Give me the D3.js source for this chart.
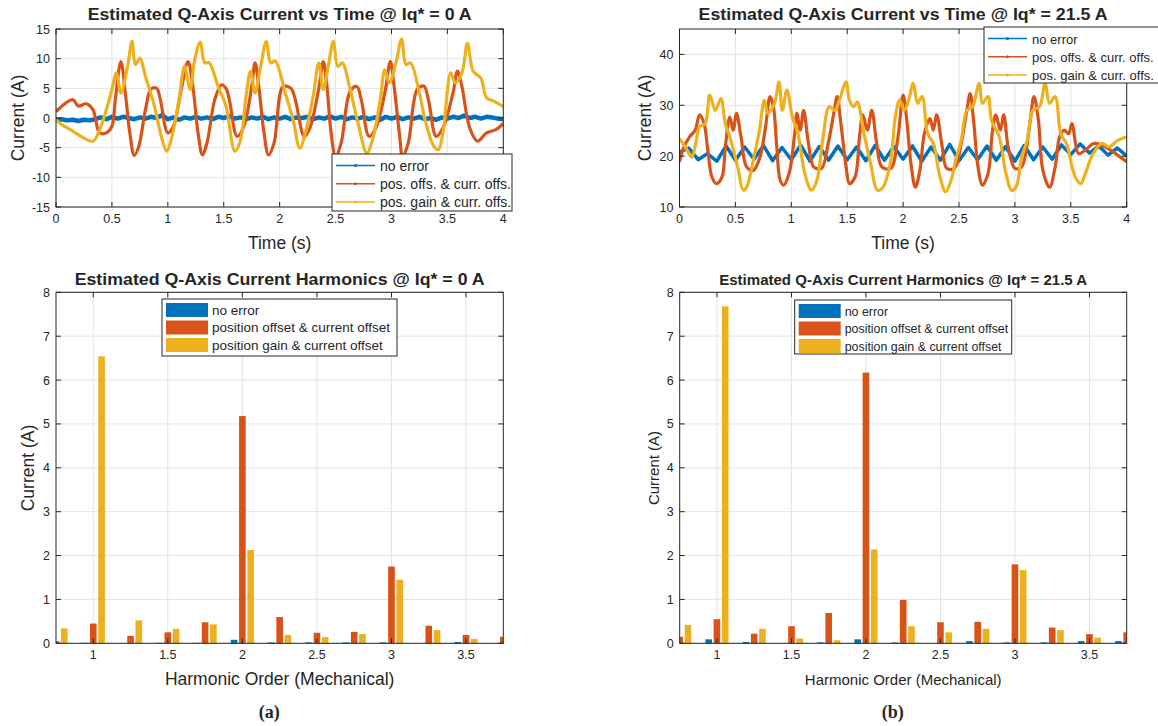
<!DOCTYPE html>
<html lang="en">
<head>
<meta charset="UTF-8">
<title>Estimated Q-Axis Current</title>
<style>
  body { margin: 0; background: #fff; font-family: "Liberation Sans", Arial, sans-serif; }
  text { fill: #262626; }
</style>
</head>
<body>
<svg width="1158" height="726"></svg>
<script src="https://d3js.org/d3.v7.min.js"></script>
<script>
// ---- data ----
const colors = ["#0072BD", "#D95319", "#EDB120"];
const lineNames = ["no error", "pos. offs. & curr. offs.", "pos. gain & curr. offs."];
const barNames = ["no error", "position offset & current offset", "position gain & current offset"];

const timeTicks = [0, 0.5, 1, 1.5, 2, 2.5, 3, 3.5, 4];
const currentTicksA = [-15, -10, -5, 0, 5, 10, 15];
const currentTicksB = [10, 20, 30, 40];

// (a) Iq* = 0 A, no error, sampled every 0.05 s
const noErrA = [-0.3, -0.2, -0.4, -0.3, -0.5, -0.3, -0.4, -0.2, 0.1, -0.2, 0.2, -0.1, 0.2, 0.0, -0.2, 0.1,
  -0.1, 0.2, 0.0, 0.5, -0.2, 0.1, -0.3, 0.1, -0.1, 0.2, -0.1, 0.1, -0.2, 0.2, 0.0, 0.3, -0.1, 0.1, -0.2,
  0.1, -0.1, 0.2, -0.2, 0.1, -0.1, 0.2, -0.2, 0.1, 0.0, 0.2, -0.2, 0.1, -0.1, 0.3, -0.1, 0.2, -0.2, 0.1,
  -0.1, 0.2, -0.2, 0.1, -0.3, 0.2, -0.1, 0.2, -0.2, 0.1, -0.1, 0.2, -0.2, 0.0, -0.3, 0.1, -0.1, 0.2, 0.0,
  0.4, 0.0, 0.2, -0.1, 0.2, 0.1, -0.1, -0.2];
const noErrAStep = 0.05;

// (a) position offset & current offset  [time, current]
const posOffsA = [[0, 1.1], [0.15, 3.1], [0.2, 2], [0.27, 2.4], [0.33, 1.4], [0.39, -2.5], [0.45, -2.5],
  [0.5, -1.4], [0.53, 3], [0.58, 9.5], [0.62, 4.2], [0.66, -2.5], [0.7, -6.3], [0.74, -4.8], [0.8, 1.4],
  [0.85, 4.9], [0.9, 5], [0.93, 3.4], [1.0, -2.5], [1.05, -1.4], [1.12, 4.8], [1.18, 9.5], [1.22, 5.9],
  [1.27, -2.5], [1.31, -6.2], [1.35, -4.2], [1.42, 3.1], [1.48, 5.6], [1.52, 5], [1.55, 3.1], [1.62, -3.1],
  [1.68, -1.4], [1.75, 5.3], [1.78, 9.3], [1.81, 5.9], [1.86, -2.5], [1.9, -6.2], [1.95, -4.2], [2.03, 5.3],
  [2.1, 5], [2.14, 3.1], [2.22, -3.1], [2.27, -1.7], [2.35, 5], [2.39, 9.5], [2.42, 5.9], [2.46, -2.5],
  [2.5, -6.5], [2.55, -4.2], [2.63, 4.5], [2.69, 5.3], [2.73, 3.1], [2.8, -3.1], [2.86, -1.7], [2.94, 4.2],
  [2.99, 9.5], [3.02, 5.9], [3.07, -2.5], [3.1, -6.5], [3.15, -4.2], [3.23, 4.8], [3.29, 5.4], [3.33, 3.1],
  [3.4, -3.1], [3.46, -1.7], [3.55, 4.2], [3.59, 7.9], [3.63, 5.3], [3.7, -1.7], [3.77, -3.9], [3.85, -2.5],
  [3.93, -2], [4.0, -0.9]];

// (a) position gain & current offset
const posGainA = [[0, -0.3], [0.05, -1.1], [0.15, -2.2], [0.25, -3.4], [0.33, -3.9], [0.38, -2.5],
  [0.45, 1.4], [0.5, 4.8], [0.54, 7.6], [0.58, 4.2], [0.64, 8.7], [0.68, 12.9], [0.71, 9], [0.75, 10.1],
  [0.8, 7], [0.88, 2], [0.95, -3.7], [0.99, -5.6], [1.03, -3.7], [1.1, 3.1], [1.15, 8.7], [1.2, 4.8],
  [1.24, 9.8], [1.29, 12.8], [1.33, 9.3], [1.37, 9.3], [1.45, 5.3], [1.52, 2], [1.6, -5.6], [1.65, -3.7],
  [1.7, 3.7], [1.74, 7.9], [1.78, 4.2], [1.83, 8.7], [1.88, 12.9], [1.92, 9.3], [1.96, 9.6], [2.05, 4.2],
  [2.12, -0.3], [2.18, -5.1], [2.23, -2.5], [2.3, 3.7], [2.35, 9.3], [2.39, 4.8], [2.44, 9.3], [2.48, 12.9],
  [2.52, 8.7], [2.56, 9.3], [2.63, 4.8], [2.7, -0.8], [2.78, -5.9], [2.83, -3.7], [2.9, 3.1], [2.94, 8.1],
  [2.98, 5.9], [3.04, 9.3], [3.09, 13.3], [3.13, 9], [3.17, 9.3], [3.25, 4.2], [3.3, -0.3], [3.38, -4.8],
  [3.42, -5.3], [3.46, -2.5], [3.53, 7.6], [3.57, 5.9], [3.63, 7.6], [3.68, 12.6], [3.73, 7.9], [3.8, 6.7],
  [3.85, 3.4], [3.92, 2.8], [4.0, 1.9]];

// (b) Iq* = 21.5 A, no error, sampled every 1/12 s
const noErrB = [20.8, 21.6, 19.3, 20.5, 19.0, 22.0, 19.2, 21.8, 19.4, 22.1, 19.1, 21.7, 19.3, 22.2, 19.0,
  21.9, 19.2, 22.0, 19.3, 21.8, 19.1, 22.1, 19.2, 21.9, 19.4, 22.0, 19.0, 21.8, 19.2, 22.3, 19.1, 21.7,
  19.3, 22.0, 19.2, 21.9, 19.0, 22.1, 19.3, 21.8, 19.4, 22.2, 20.3, 22.4, 20.6, 22.0, 20.2, 21.6, 20.0];
const noErrBStep = 1 / 12;

const posOffsB = [[0, 18.9], [0.04, 21.8], [0.09, 23.8], [0.14, 25.1], [0.18, 28.1], [0.22, 26.4],
  [0.25, 21.8], [0.29, 15.9], [0.33, 14.6], [0.38, 15.9], [0.41, 21.8], [0.45, 27.7], [0.48, 25.1],
  [0.51, 28.4], [0.55, 23.8], [0.6, 17.9], [0.66, 17.2], [0.72, 19.8], [0.77, 25.8], [0.81, 31.7],
  [0.84, 29.7], [0.87, 21.8], [0.9, 15.3], [0.93, 14.3], [0.98, 16.6], [1.03, 24.4], [1.05, 28.4],
  [1.08, 25.1], [1.11, 29], [1.15, 23.1], [1.2, 17.9], [1.27, 17.6], [1.33, 22.5], [1.38, 28.4],
  [1.41, 31.7], [1.44, 27.1], [1.49, 17.9], [1.52, 14.6], [1.57, 15.9], [1.61, 23.8], [1.64, 28.1],
  [1.68, 25.1], [1.72, 29], [1.76, 23.1], [1.81, 17.9], [1.89, 17.6], [1.95, 23.1], [2.0, 32],
  [2.03, 27.7], [2.07, 18.5], [2.11, 13.9], [2.15, 17.2], [2.19, 24.4], [2.24, 27.4], [2.27, 25.1],
  [2.3, 28.1], [2.35, 21.8], [2.39, 17.6], [2.46, 17.6], [2.52, 22.5], [2.57, 29], [2.6, 32.3],
  [2.63, 27.1], [2.67, 17.9], [2.71, 14.3], [2.76, 16.6], [2.8, 25.1], [2.83, 28.1], [2.87, 25.1],
  [2.9, 28.1], [2.94, 21.8], [3.0, 17.6], [3.06, 17.9], [3.13, 25.8], [3.17, 31.7], [3.21, 27.1],
  [3.25, 17.2], [3.31, 13.9], [3.36, 17.9], [3.4, 23.8], [3.44, 25.1], [3.48, 24.4], [3.51, 26.4],
  [3.57, 20.5], [3.63, 21.2], [3.71, 22.5], [3.81, 21.8], [3.9, 20.5], [4.0, 18.9]];

const posGainB = [[0, 23.5], [0.06, 21.5], [0.11, 19.8], [0.15, 23.1], [0.18, 25.8], [0.23, 26.4],
  [0.27, 32], [0.32, 29], [0.37, 31.3], [0.41, 26.4], [0.45, 23.8], [0.52, 17.9], [0.57, 13.3],
  [0.6, 13.9], [0.66, 19.2], [0.71, 24.4], [0.76, 31], [0.79, 28.4], [0.85, 30.4], [0.89, 34.6],
  [0.92, 29], [0.96, 33], [1.01, 27.7], [1.06, 24.4], [1.12, 16.6], [1.18, 13.3], [1.23, 15.3],
  [1.28, 23.1], [1.34, 29.7], [1.39, 29], [1.43, 31], [1.49, 34.6], [1.52, 31], [1.56, 29.7],
  [1.59, 30.7], [1.65, 24.4], [1.71, 18.5], [1.77, 13.3], [1.82, 13.9], [1.89, 19.2], [1.93, 27.7],
  [1.97, 31], [2.01, 29], [2.05, 31], [2.09, 34.3], [2.13, 30.4], [2.17, 31.7], [2.22, 24.4],
  [2.27, 22.5], [2.33, 15.9], [2.38, 13], [2.43, 15.3], [2.47, 19.2], [2.52, 23.1], [2.57, 29],
  [2.62, 29.7], [2.68, 34.3], [2.71, 30.4], [2.76, 31.7], [2.79, 27.1], [2.86, 23.8], [2.92, 16.6],
  [2.97, 13.3], [3.01, 13.9], [3.06, 19.8], [3.11, 23.1], [3.16, 29], [3.22, 29.7], [3.27, 34.3],
  [3.31, 30.4], [3.36, 31.7], [3.41, 24.4], [3.46, 22.5], [3.54, 15.9], [3.59, 14.6], [3.63, 16.6],
  [3.7, 20.5], [3.78, 22.5], [3.84, 21.8], [3.92, 23.1], [4.0, 23.8]];

// harmonic spectra
const harmonics = [0.75, 1, 1.25, 1.5, 1.75, 2, 2.25, 2.5, 2.75, 3, 3.25, 3.5, 3.75];
const harmTicks = [1, 1.5, 2, 2.5, 3, 3.5];
const harmCurrentTicks = [0, 1, 2, 3, 4, 5, 6, 7, 8];
const barsNoErrA = [0, 0.01, 0, 0.01, 0.01, 0.08, 0.02, 0.02, 0.02, 0.02, 0, 0.03, 0];
const barsPosOffsA = [0.05, 0.45, 0.17, 0.25, 0.48, 5.18, 0.6, 0.24, 0.26, 1.75, 0.4, 0.19, 0.15];
const barsPosGainA = [0.34, 6.54, 0.52, 0.33, 0.43, 2.13, 0.19, 0.14, 0.21, 1.45, 0.3, 0.1, 0.05];
const barsNoErrB = [0, 0.09, 0.03, 0, 0.02, 0.09, 0.02, 0, 0.05, 0.02, 0.02, 0.05, 0.05];
const barsPosOffsB = [0.15, 0.55, 0.22, 0.39, 0.69, 6.17, 0.99, 0.48, 0.49, 1.8, 0.36, 0.21, 0.25];
const barsPosGainB = [0.42, 7.68, 0.33, 0.11, 0.07, 2.14, 0.39, 0.25, 0.33, 1.67, 0.3, 0.13, 0.1];

// ---- drawing ----
const svg = d3.select("svg");
svg.append("rect").attr("width", 1158).attr("height", 726).attr("fill", "#fff");

// grid, box and inward ticks in the MATLAB style
function frame(g, x, y, xt, yt, fs) {
  const [x0, x1] = x.range();
  const y1 = y.range()[0], y0 = y.range()[1];
  g.append("g").selectAll("line").data(xt).join("line")
    .attr("x1", d => x(d)).attr("x2", d => x(d)).attr("y1", y0).attr("y2", y1)
    .attr("stroke", "#e4e4e4");
  g.append("g").selectAll("line").data(yt).join("line")
    .attr("y1", d => y(d)).attr("y2", d => y(d)).attr("x1", x0).attr("x2", x1)
    .attr("stroke", "#e4e4e4");
  return function overlay() {
    const tk = 5;
    const t = g.append("g").attr("stroke", "#262626");
    xt.forEach(d => {
      t.append("line").attr("x1", x(d)).attr("x2", x(d)).attr("y1", y1).attr("y2", y1 - tk);
      t.append("line").attr("x1", x(d)).attr("x2", x(d)).attr("y1", y0).attr("y2", y0 + tk);
    });
    yt.forEach(d => {
      t.append("line").attr("y1", y(d)).attr("y2", y(d)).attr("x1", x0).attr("x2", x0 + tk);
      t.append("line").attr("y1", y(d)).attr("y2", y(d)).attr("x1", x1).attr("x2", x1 - tk);
    });
    g.append("rect").attr("x", x0).attr("y", y0).attr("width", x1 - x0).attr("height", y1 - y0)
      .attr("fill", "none").attr("stroke", "#262626");
    g.append("g").selectAll("text").data(xt).join("text")
      .attr("x", d => x(d)).attr("y", y1 + fs + 3).attr("text-anchor", "middle")
      .attr("font-size", fs).text(d => d);
    g.append("g").selectAll("text").data(yt).join("text")
      .attr("x", x0 - 6).attr("y", d => y(d) + fs * 0.36).attr("text-anchor", "end")
      .attr("font-size", fs).text(d => d);
  };
}

function labels(g, o) {
  g.append("text").attr("x", o.cx).attr("y", o.titleY).attr("text-anchor", "middle")
    .attr("font-weight", "bold").attr("font-size", o.titleSize).attr("fill", "#000")
    .attr("textLength", o.titleW).attr("lengthAdjust", "spacingAndGlyphs").text(o.title);
  g.append("text").attr("x", o.cx).attr("y", o.xLabelY).attr("text-anchor", "middle")
    .attr("font-size", o.labelSize).text(o.xLabel);
  g.append("text").attr("transform", `translate(${o.yLabelX},${o.cy}) rotate(-90)`)
    .attr("text-anchor", "middle").attr("font-size", o.labelSize).text("Current (A)");
}

function timeChart(o) {
  const g = svg.append("g");
  const x = d3.scaleLinear().domain([0, 4]).range([o.left, o.right]);
  const y = d3.scaleLinear().domain(o.yDomain).range([207, 29]);
  const overlay = frame(g, x, y, timeTicks, o.yTicks, 12.5);
  g.append("clipPath").attr("id", o.id).append("rect")
    .attr("x", o.left).attr("y", 29).attr("width", o.right - o.left).attr("height", 178);
  const line = d3.line().x(d => x(d[0])).y(d => y(d[1])).curve(d3.curveCatmullRom.alpha(0.5));
  const plot = g.append("g").attr("clip-path", `url(#${o.id})`).attr("fill", "none")
    .attr("stroke-linejoin", "round");
  const noErr = o.noErr.map((v, i) => [i * o.noErrStep, v]);
  plot.append("path").attr("d", d3.line().x(d => x(d[0])).y(d => y(d[1]))(noErr))
    .attr("stroke", colors[0]).attr("stroke-width", o.blueWidth);
  plot.append("path").attr("d", line(o.posOffs)).attr("stroke", colors[1]).attr("stroke-width", 3.2);
  plot.append("path").attr("d", line(o.posGain)).attr("stroke", colors[2]).attr("stroke-width", 3.2);
  overlay();
  labels(g, { cx: (o.left + o.right) / 2, cy: 118, titleY: 20, titleSize: 16.5, titleW: o.titleW,
    title: o.title, xLabelY: 249, xLabel: "Time (s)", yLabelX: o.yLabelX, labelSize: 17.5 });

  // legend
  const L = o.legend;
  const lg = g.append("g");
  lg.append("rect").attr("x", L.x).attr("y", L.y).attr("width", L.w).attr("height", L.h)
    .attr("fill", "#fff").attr("stroke", "#262626");
  lineNames.forEach((n, i) => {
    const yy = L.y + 11.5 + i * 18.3;
    lg.append("line").attr("x1", L.x + 4).attr("x2", L.x + 43).attr("y1", yy).attr("y2", yy)
      .attr("stroke", colors[i]).attr("stroke-width", 1.5);
    lg.append("circle").attr("cx", L.x + 23.5).attr("cy", yy).attr("r", 1.5).attr("fill", colors[i]);
    lg.append("text").attr("x", L.x + 48).attr("y", yy + 5).attr("font-size", L.fs).text(n);
  });
}

function barChart(o) {
  const g = svg.append("g");
  const x = d3.scaleLinear().domain([0.75, 3.75]).range([o.left, o.right]);
  const y = d3.scaleLinear().domain([0, 8]).range([643.3, 292.3]);
  const overlay = frame(g, x, y, harmTicks, harmCurrentTicks, 12.5);
  g.append("clipPath").attr("id", o.id).append("rect")
    .attr("x", o.left).attr("y", 292).attr("width", o.right - o.left).attr("height", 352);
  const slot = 0.25 * 3 / 4.5 / 3;
  const bw = x(0.8 * slot) - x(0);
  const plot = g.append("g").attr("clip-path", `url(#${o.id})`);
  o.series.forEach((vals, s) => {
    plot.append("g").selectAll("rect").data(harmonics).join("rect")
      .attr("x", (h, i) => x(h + (s - 1) * slot) - bw / 2)
      .attr("y", (h, i) => y(vals[i]))
      .attr("width", bw)
      .attr("height", (h, i) => y(0) - y(vals[i]))
      .attr("fill", colors[s]);
  });
  overlay();
  labels(g, { cx: (o.left + o.right) / 2, cy: 468, titleY: 285, titleSize: o.titleSize, titleW: o.titleW,
    title: o.title, xLabelY: 685, xLabel: "Harmonic Order (Mechanical)", yLabelX: o.yLabelX,
    labelSize: o.labelSize });

  const L = o.legend;
  const lg = g.append("g");
  lg.append("rect").attr("x", L.x).attr("y", L.y).attr("width", L.w).attr("height", L.h)
    .attr("fill", "#fff").attr("stroke", "#262626");
  barNames.forEach((n, i) => {
    const yy = L.y + 11 + i * 17.5;
    lg.append("rect").attr("x", L.x + 4).attr("y", yy - 7).attr("width", L.sw).attr("height", 14)
      .attr("fill", colors[i]);
    lg.append("text").attr("x", L.x + L.sw + 8).attr("y", yy + 4.5).attr("font-size", L.fs).text(n);
  });

  svg.append("text").attr("x", (o.left + o.right) / 2 - 10.5).attr("y", 718).attr("text-anchor", "middle")
    .attr("font-family", "'Liberation Serif', 'Times New Roman', serif").attr("font-weight", "bold")
    .attr("font-size", 18).attr("fill", "#000").text(o.tag);
}

timeChart({ id: "clipTA", left: 56, right: 503.3, yDomain: [-15, 15], yTicks: currentTicksA,
  noErr: noErrA, noErrStep: noErrAStep, posOffs: posOffsA, posGain: posGainA, blueWidth: 4.5,
  title: "Estimated Q-Axis Current vs Time @ Iq* = 0 A", titleW: 384, yLabelX: 24,
  legend: { x: 332, y: 154, w: 180, h: 57, fs: 14 } });

timeChart({ id: "clipTB", left: 679.5, right: 1126.7, yDomain: [10, 45], yTicks: currentTicksB,
  noErr: noErrB, noErrStep: noErrBStep, posOffs: posOffsB, posGain: posGainB, blueWidth: 3.5,
  title: "Estimated Q-Axis Current vs Time @ Iq* = 21.5 A", titleW: 409, yLabelX: 651,
  legend: { x: 984, y: 27, w: 200, h: 56, fs: 13 } });

barChart({ id: "clipBA", left: 56, right: 503.3, tag: "(a)",
  series: [barsNoErrA, barsPosOffsA, barsPosGainA],
  title: "Estimated Q-Axis Current Harmonics @ Iq* = 0 A", titleSize: 17, titleW: 410,
  yLabelX: 34, labelSize: 17.5,
  legend: { x: 162, y: 299, w: 235, h: 57, sw: 42, fs: 13.5 } });

barChart({ id: "clipBB", left: 679.7, right: 1126.7, tag: "(b)",
  series: [barsNoErrB, barsPosOffsB, barsPosGainB],
  title: "Estimated Q-Axis Current Harmonics @ Iq* = 21.5 A", titleSize: 14.5, titleW: 368,
  yLabelX: 659, labelSize: 15,
  legend: { x: 794.7, y: 300, w: 217, h: 54, sw: 42, fs: 12.4 } });
</script>
</body>
</html>
